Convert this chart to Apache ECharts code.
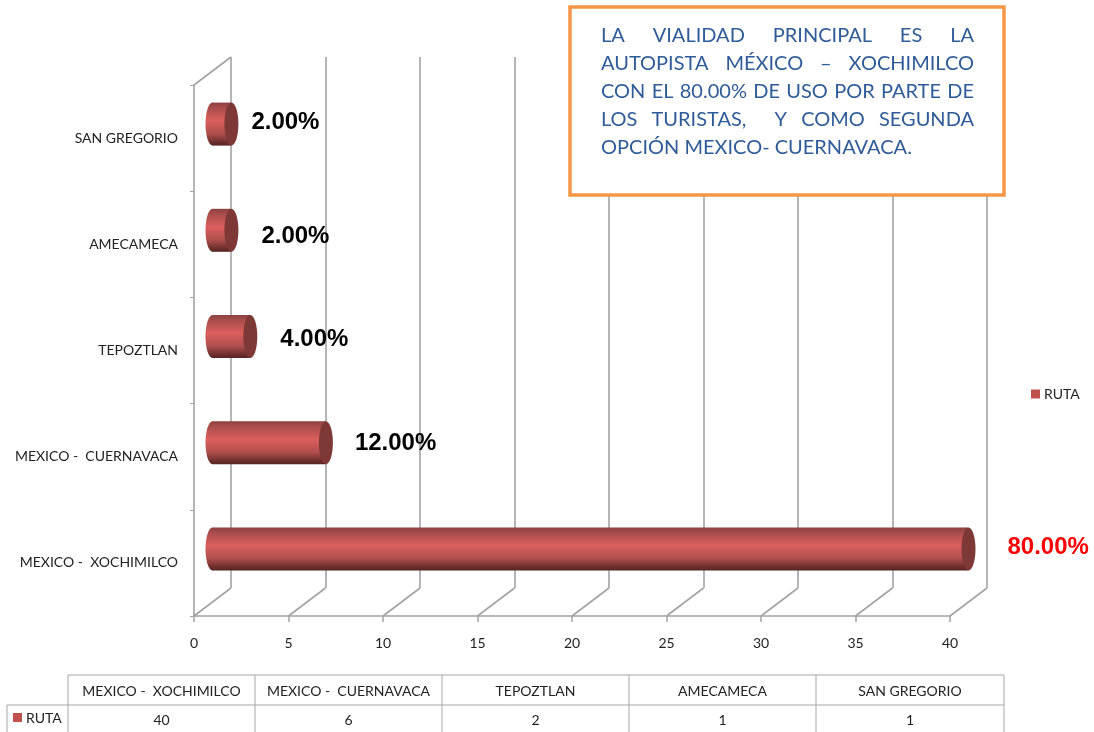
<!DOCTYPE html>
<html><head><meta charset="utf-8">
<style>html,body{margin:0;padding:0;background:#fff}#c{width:1094px;height:732px}</style>
<script src="https://cdn.jsdelivr.net/npm/echarts@6/dist/echarts.min.js"></script>
</head><body><div id="c"></div>
<script>
const categories = ['MEXICO -  XOCHIMILCO','MEXICO -  CUERNAVACA','TEPOZTLAN','AMECAMECA','SAN GREGORIO'];
const values = [40, 6, 2, 1, 1];
const percentLabels = ['80.00%','12.00%','4.00%','2.00%','2.00%'];
const seriesName = 'RUTA';
const valueTicks = [0,5,10,15,20,25,30,35,40];
const noteLines = [
  'LA VIALIDAD PRINCIPAL ES LA',
  'AUTOPISTA MÉXICO – XOCHIMILCO',
  'CON EL 80.00% DE USO POR PARTE DE',
  'LOS TURISTAS,  Y COMO SEGUNDA',
  'OPCIÓN MEXICO- CUERNAVACA.'
];

// layout / style (kept apart from the data)
const labelGapX = [39, 29, 30, 30, 20];
const labelShiftY = [-2, 1, 3, 6, -2];
const DEPTH_X = 37, DEPTH_Y = -28, BAR_DX = 18.5, BAR_DY = -14, BAR_H = 43, CAP_RX = 7;
const GRID = '#a3a3a3', TXT = '#222', FONT = 'Lato, Carlito, sans-serif';
const NOTE_COLOR = '#2f5c98', NOTE_FONT = '20px ' + FONT;
const colX = [68, 255, 442, 629, 816, 1004];
const rowY = [675, 705, 733];

const chart = echarts.init(document.getElementById('c'), null, {renderer:'canvas'});

const bodyFill = new echarts.graphic.LinearGradient(0,0,0,1,[
  {offset:0,color:'#8c4140'},{offset:0.12,color:'#a84d4b'},{offset:0.42,color:'#dc5f5d'},
  {offset:0.72,color:'#b04f4d'},{offset:0.92,color:'#6e2f2e'},{offset:1,color:'#572423'}]);

function renderCylinder(params, api){
  const i = api.value(1), v = api.value(0);
  const start = api.coord([0, i]), end = api.coord([v, i]);
  const x0 = start[0] + BAR_DX, x1 = end[0] + BAR_DX, cy = start[1] + BAR_DY, ry = BAR_H/2;
  const lx = x1 + (labelGapX[i]);
  return {type:'group', children:[
    {type:'ellipse', shape:{cx:x0, cy, rx:CAP_RX, ry}, style:{fill:bodyFill}},
    {type:'rect', shape:{x:x0, y:cy-ry, width:x1-x0, height:BAR_H}, style:{fill:bodyFill}},
    {type:'ellipse', shape:{cx:x1, cy, rx:CAP_RX, ry}, style:{fill:'#7e3836'}},
    {type:'text', style:{x:lx, y:cy+labelShiftY[i], text:percentLabels[i],
      font:'bold 24px "Liberation Sans", Arial, sans-serif', fill:i===0?'#ff0000':'#000',
      textAlign:'left', textVerticalAlign:'middle', align:'left', verticalAlign:'middle'}}
  ]};
}

function renderFloor(params, api){
  const v = api.value(0);
  const p = api.coord([v, 0]);
  const cs = params.coordSys, by = cs.y + cs.height;
  const lines = [{type:'line', shape:{x1:p[0], y1:by, x2:p[0]+DEPTH_X, y2:by+DEPTH_Y},
    style:{stroke:GRID, lineWidth:1.6}}];
  if (v === 0) lines.push({type:'line', shape:{x1:p[0], y1:cs.y, x2:p[0]+DEPTH_X, y2:cs.y+DEPTH_Y},
    style:{stroke:GRID, lineWidth:1.6}});
  return {type:'group', children:lines};
}

// justified note text
const ctx = document.createElement('canvas').getContext('2d');
ctx.font = NOTE_FONT;
const noteEls = [];
noteLines.forEach((line, li) => {
  const y = 36 + li*28, L = 601, R = 974;
  if (li === noteLines.length-1) {
    noteEls.push({type:'text', z:101, style:{x:L, y, text:line, font:NOTE_FONT, fill:NOTE_COLOR, verticalAlign:'middle'}});
    return;
  }
  const words = line.split(' ');
  const w = words.map(t => ctx.measureText(t).width);
  const gap = (R-L-w.reduce((a,b)=>a+b,0))/(words.length-1);
  let x = L;
  words.forEach((t,k) => {
    if (t) noteEls.push({type:'text', z:101, style:{x, y, text:t, font:NOTE_FONT, fill:NOTE_COLOR, verticalAlign:'middle'}});
    x += w[k]+gap;
  });
});

// data table
const tableEls = [];
const tl = (x1,y1,x2,y2)=>tableEls.push({type:'line', z:50, shape:{x1,y1,x2,y2}, style:{stroke:'#a6a6a6', lineWidth:1}});
tl(colX[0],rowY[0],colX[5],rowY[0]);
tl(7,rowY[1],colX[5],rowY[1]);
colX.forEach(x=>tl(x,rowY[0],x,rowY[2]));
tl(7,rowY[1],7,rowY[2]);
categories.forEach((c,i)=>{
  const cx=(colX[i]+colX[i+1])/2;
  tableEls.push({type:'text', z:51, style:{x:cx,y:691,text:c,font:'14px '+FONT,fill:TXT,align:'center',verticalAlign:'middle'}});
  tableEls.push({type:'text', z:51, style:{x:cx,y:720,text:String(values[i]),font:'14px '+FONT,fill:TXT,align:'center',verticalAlign:'middle'}});
});
tableEls.push({type:'rect', z:51, shape:{x:13,y:713,width:9,height:9}, style:{fill:'#c0504d'}});
tableEls.push({type:'text', z:51, style:{x:26,y:718,text:seriesName,font:'14px '+FONT,fill:TXT,verticalAlign:'middle'}});

chart.setOption({
  animation:false,
  backgroundColor:'#fff',
  legend:{data:[seriesName], left:1026, top:382, itemWidth:9, itemHeight:9, itemGap:4, icon:'rect',
    textStyle:{fontFamily:FONT,fontSize:14,color:TXT,padding:[0,0,0,-1]}},
  grid:[
    {left:194, right:144, top:85, bottom:116},
    {left:231, right:107, top:57, bottom:144}
  ],
  xAxis:[
    {type:'value', gridIndex:0, min:0, max:40, interval:5, splitLine:{show:false},
     axisLine:{show:true,lineStyle:{color:GRID,width:1.6}}, axisTick:{show:true,length:6,lineStyle:{color:GRID,width:1.5}},
     axisLabel:{margin:20,fontFamily:FONT,fontSize:14,color:TXT}},
    {type:'value', gridIndex:1, min:0, max:40, interval:5,
     splitLine:{show:true,lineStyle:{color:GRID,width:1.6}},
     axisLine:{show:false},axisTick:{show:false},axisLabel:{show:false}}
  ],
  yAxis:[
    {type:'category', gridIndex:0, data:categories, boundaryGap:true,
     axisLine:{show:true,onZero:false,lineStyle:{color:GRID,width:1.6}},
     axisTick:{show:true,length:4,lineStyle:{color:GRID,width:1}},
     axisLabel:{margin:16,fontFamily:FONT,fontSize:14,color:TXT,padding:[3,0,0,0]}},
    {type:'category', gridIndex:1, data:categories, show:false}
  ],
  series:[
    {type:'custom', name:'floor', xAxisIndex:0, yAxisIndex:0, z:1, silent:true,
     data:valueTicks.map(v=>[v]), encode:{x:0}, renderItem:renderFloor, clip:false},
    {type:'custom', name:seriesName, xAxisIndex:0, yAxisIndex:0, z:5,
     itemStyle:{color:'#c0504d'}, clip:false,
     data:values.map((v,i)=>[v,i]), encode:{x:0,y:1}, renderItem:renderCylinder}
  ],
  graphic:{elements:[
    {type:'rect', z:100, shape:{x:570,y:7,width:434,height:188},
     style:{fill:'#fff',stroke:'#f79646',lineWidth:3.5}},
    ...noteEls, ...tableEls
  ]}
});
</script></body></html>
